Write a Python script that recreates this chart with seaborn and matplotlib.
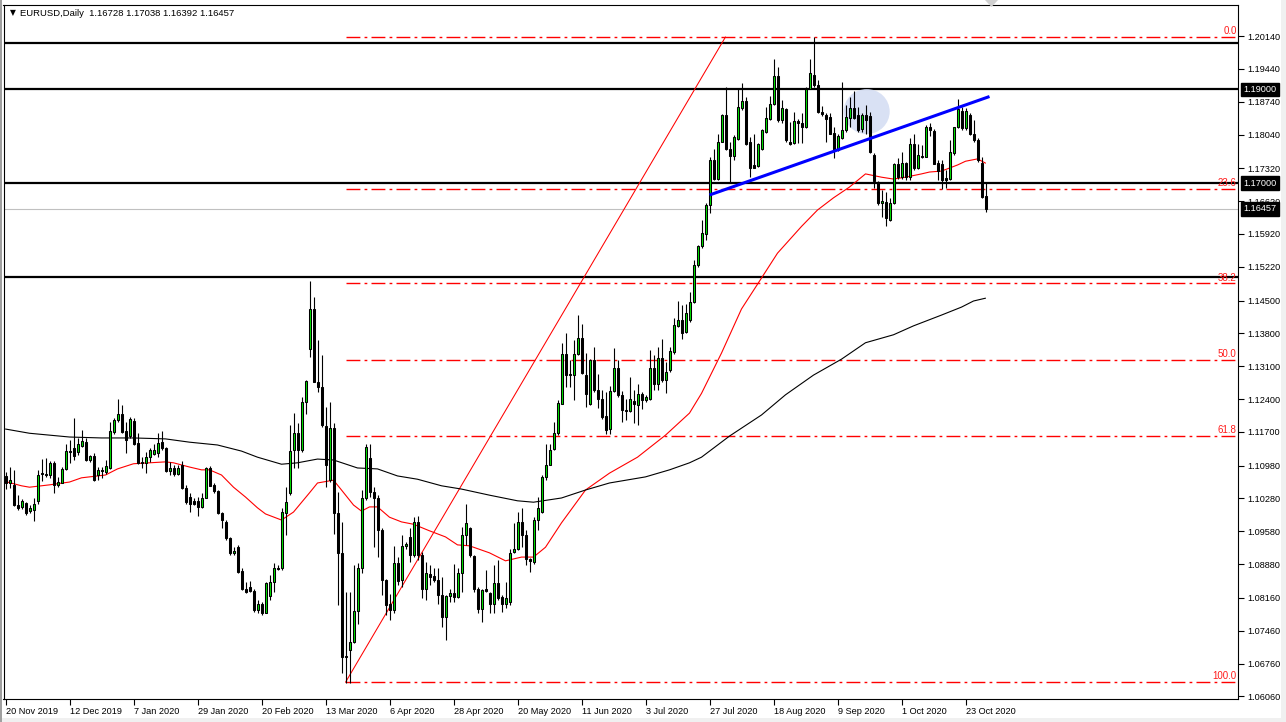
import numpy as np
import pandas as pd
import matplotlib
matplotlib.use("Agg")
import matplotlib.pyplot as plt
from matplotlib.patches import Ellipse, Rectangle, Polygon
import seaborn as sns

# daily EURUSD bars, 20 Nov 2019 .. 30 Oct 2020
opens = [
    1.1076, 1.1061, 1.1056, 1.1015, 1.1010, 1.1019, 1.1001, 1.1004, 1.1022, 1.1083,
    1.1081, 1.1078, 1.1104, 1.1056, 1.1062, 1.1090, 1.1129, 1.1135, 1.1126, 1.1140,
    1.1149, 1.1110, 1.1118, 1.1078, 1.1088, 1.1085, 1.1093, 1.1170, 1.1196, 1.1208,
    1.1172, 1.1161, 1.1194, 1.1147, 1.1106, 1.1103, 1.1117, 1.1122, 1.1124, 1.1149,
    1.1135, 1.1087, 1.1093, 1.1081, 1.1099, 1.1051, 1.1031, 1.1022, 1.1022, 1.1009,
    1.1030, 1.1094, 1.1056, 1.1044, 1.0996, 1.0978, 1.0943, 1.0911, 1.0925, 1.0873,
    1.0836, 1.0840, 1.0830, 1.0790, 1.0802, 1.0783, 1.0820, 1.0849, 1.0880, 1.0879,
    1.0996, 1.1039, 1.1132, 1.1168, 1.1131, 1.1234, 1.1346, 1.1433, 1.1277, 1.1266,
    1.1182, 1.1067, 1.1179, 1.0996, 1.0911, 1.0692, 1.0704, 1.0722, 1.0788, 1.0880,
    1.1029, 1.1115, 1.1042, 1.1028, 1.0960, 1.0854, 1.0804, 1.0791, 1.0891, 1.0854,
    1.0927, 1.0946, 1.0907, 1.0978, 1.0907, 1.0836, 1.0866, 1.0862, 1.0855, 1.0822,
    1.0776, 1.0820, 1.0827, 1.0817, 1.0870, 1.0951, 1.0966, 1.0905, 1.0836, 1.0792,
    1.0834, 1.0827, 1.0804, 1.0848, 1.0817, 1.0804, 1.0808, 1.0914, 1.0921, 1.0978,
    1.0950, 1.0898, 1.0893, 1.0982, 1.0999, 1.1074, 1.1100, 1.1134, 1.1168, 1.1230,
    1.1336, 1.1294, 1.1291, 1.1337, 1.1371, 1.1291, 1.1230, 1.1323, 1.1259, 1.1239,
    1.1203, 1.1177, 1.1257, 1.1307, 1.1248, 1.1216, 1.1215, 1.1235, 1.1228, 1.1250,
    1.1237, 1.1241, 1.1307, 1.1271, 1.1328, 1.1280, 1.1301, 1.1341, 1.1395, 1.1409,
    1.1382, 1.1408, 1.1446, 1.1525, 1.1566, 1.1591, 1.1653, 1.1750, 1.1710, 1.1789,
    1.1846, 1.1774, 1.1758, 1.1794, 1.1860, 1.1875, 1.1787, 1.1739, 1.1737, 1.1774,
    1.1810, 1.1836, 1.1869, 1.1929, 1.1834, 1.1858, 1.1789, 1.1785, 1.1833, 1.1829,
    1.1819, 1.1902, 1.1931, 1.1909, 1.1851, 1.1846, 1.1841, 1.1808, 1.1772, 1.1796,
    1.1814, 1.1840, 1.1860, 1.1846, 1.1815, 1.1846, 1.1843, 1.1760, 1.1703, 1.1657,
    1.1661, 1.1622, 1.1657, 1.1741, 1.1714, 1.1744, 1.1714, 1.1783, 1.1732, 1.1758,
    1.1757, 1.1821, 1.1812, 1.1744, 1.1742, 1.1711, 1.1710, 1.1764, 1.1819, 1.1855,
    1.1817, 1.1846, 1.1806, 1.1792, 1.1744, 1.16728,
]
highs = [
    1.1085, 1.1095, 1.1088, 1.1035, 1.1026, 1.1021, 1.1014, 1.1028, 1.1088, 1.1113,
    1.1115, 1.1108, 1.1108, 1.1073, 1.1095, 1.1145, 1.1152, 1.1199, 1.1156, 1.1174,
    1.1156, 1.1120, 1.1125, 1.1095, 1.1095, 1.1110, 1.1191, 1.1199, 1.1240, 1.1227,
    1.1191, 1.1202, 1.1199, 1.1167, 1.1117, 1.1127, 1.1135, 1.1145, 1.1167, 1.1172,
    1.1137, 1.1106, 1.1099, 1.1099, 1.1108, 1.1056, 1.1039, 1.1028, 1.1031, 1.1039,
    1.1095, 1.1097, 1.1060, 1.1046, 1.0999, 1.0982, 1.0946, 1.0925, 1.0928, 1.0879,
    1.0850, 1.0852, 1.0834, 1.0811, 1.0808, 1.0850, 1.0864, 1.0891, 1.0886, 1.1007,
    1.1053, 1.1184, 1.1211, 1.1188, 1.1245, 1.1280, 1.1492, 1.1458, 1.1366, 1.1334,
    1.1224, 1.1234, 1.1189, 1.1042, 1.0978, 1.0829, 1.0829, 1.0886, 1.0891, 1.1046,
    1.1145, 1.1144, 1.1053, 1.1035, 1.0964, 1.0857, 1.0825, 1.0926, 1.0904, 1.0951,
    1.0936, 1.0964, 1.0989, 1.0990, 1.0914, 1.0893, 1.0886, 1.0879, 1.0879, 1.0861,
    1.0822, 1.0836, 1.0888, 1.0879, 1.0968, 1.1017, 1.0968, 1.0907, 1.0840, 1.0836,
    1.0875, 1.0829, 1.0886, 1.0896, 1.0822, 1.0850, 1.0921, 1.0975, 1.0999, 1.1007,
    1.0961, 1.0902, 1.0989, 1.1032, 1.1077, 1.1145, 1.1145, 1.1191, 1.1237, 1.1360,
    1.1381, 1.1323, 1.1365, 1.1420, 1.1401, 1.1338, 1.1326, 1.1351, 1.1294, 1.1259,
    1.1255, 1.1267, 1.1348, 1.1324, 1.1257, 1.1241, 1.1286, 1.1260, 1.1273, 1.1255,
    1.1248, 1.1344, 1.1333, 1.1350, 1.1369, 1.1319, 1.1351, 1.1412, 1.1449, 1.1440,
    1.1442, 1.1469, 1.1536, 1.1568, 1.1621, 1.1657, 1.1757, 1.1774, 1.1805, 1.1848,
    1.1905, 1.1789, 1.1803, 1.1902, 1.1914, 1.1885, 1.1799, 1.1806, 1.1785, 1.1815,
    1.1863, 1.1886, 1.1966, 1.1949, 1.1878, 1.1860, 1.1831, 1.1853, 1.1836, 1.1849,
    1.1905, 1.1966, 1.2011, 1.1920, 1.1865, 1.1849, 1.1849, 1.1821, 1.1805, 1.1917,
    1.1867, 1.1885, 1.1897, 1.1863, 1.1849, 1.1867, 1.1853, 1.1764, 1.1705, 1.1686,
    1.1682, 1.1668, 1.1744, 1.1753, 1.1767, 1.1746, 1.1796, 1.1806, 1.1783, 1.1782,
    1.1824, 1.1828, 1.1815, 1.1749, 1.1749, 1.1728, 1.1792, 1.1821, 1.1880, 1.1863,
    1.1860, 1.1849, 1.1835, 1.1796, 1.1757, 1.17038,
]
lows = [
    1.1049, 1.1051, 1.1012, 1.1003, 1.1006, 1.0992, 1.0996, 1.0980, 1.1017, 1.1066,
    1.1073, 1.1071, 1.1039, 1.1053, 1.1060, 1.1088, 1.1103, 1.1110, 1.1120, 1.1138,
    1.1108, 1.1106, 1.1066, 1.1068, 1.1071, 1.1081, 1.1091, 1.1165, 1.1191, 1.1167,
    1.1124, 1.1156, 1.1143, 1.1101, 1.1092, 1.1083, 1.1106, 1.1120, 1.1117, 1.1131,
    1.1085, 1.1078, 1.1076, 1.1078, 1.1049, 1.1017, 1.1000, 1.1014, 1.0990, 1.1007,
    1.1028, 1.1054, 1.1039, 1.0994, 1.0964, 1.0939, 1.0907, 1.0907, 1.0868, 1.0833,
    1.0827, 1.0829, 1.0786, 1.0784, 1.0779, 1.0783, 1.0811, 1.0829, 1.0875, 1.0875,
    1.0950, 1.1035, 1.1092, 1.1092, 1.1128, 1.1209, 1.1330, 1.1277, 1.1256, 1.1181,
    1.1053, 1.1063, 1.0953, 1.0800, 1.0655, 1.0635, 1.0635, 1.0719, 1.0761, 1.0868,
    1.1024, 1.1032, 1.0925, 1.0904, 1.0822, 1.0779, 1.0768, 1.0783, 1.0843, 1.0840,
    1.0921, 1.0893, 1.0904, 1.0896, 1.0815, 1.0811, 1.0843, 1.0850, 1.0804, 1.0754,
    1.0726, 1.0808, 1.0808, 1.0815, 1.0829, 1.0928, 1.0904, 1.0829, 1.0783, 1.0765,
    1.0829, 1.0783, 1.0784, 1.0811, 1.0786, 1.0795, 1.0801, 1.0911, 1.0918, 1.0925,
    1.0886, 1.0872, 1.0888, 1.0960, 1.0996, 1.1067, 1.1099, 1.1131, 1.1163, 1.1229,
    1.1266, 1.1266, 1.1237, 1.1333, 1.1294, 1.1223, 1.1227, 1.1255, 1.1220, 1.1198,
    1.1166, 1.1166, 1.1255, 1.1245, 1.1191, 1.1195, 1.1213, 1.1188, 1.1184, 1.1218,
    1.1234, 1.1237, 1.1259, 1.1259, 1.1277, 1.1253, 1.1298, 1.1337, 1.1394, 1.1369,
    1.1380, 1.1404, 1.1444, 1.1522, 1.1561, 1.1579, 1.1637, 1.1707, 1.1708, 1.1787,
    1.1772, 1.1700, 1.1750, 1.1792, 1.1856, 1.1782, 1.1714, 1.1732, 1.1735, 1.1772,
    1.1808, 1.1835, 1.1867, 1.1831, 1.1828, 1.1789, 1.1782, 1.1784, 1.1785, 1.1785,
    1.1817, 1.1900, 1.1906, 1.1849, 1.1843, 1.1787, 1.1805, 1.1753, 1.1769, 1.1794,
    1.1810, 1.1821, 1.1836, 1.1810, 1.1810, 1.1806, 1.1764, 1.1689, 1.1654, 1.1629,
    1.1609, 1.1620, 1.1656, 1.1710, 1.1710, 1.1708, 1.1707, 1.1728, 1.1730, 1.1753,
    1.1755, 1.1801, 1.1741, 1.1708, 1.1687, 1.1689, 1.1707, 1.1760, 1.1817, 1.1814,
    1.1814, 1.1803, 1.1789, 1.1746, 1.1668, 1.16392,
]
closes = [
    1.1061, 1.1067, 1.1014, 1.1007, 1.1022, 1.0997, 1.1007, 1.1016, 1.1079, 1.1080,
    1.1078, 1.1104, 1.1056, 1.1063, 1.1090, 1.1129, 1.1126, 1.1118, 1.1145, 1.1151,
    1.1110, 1.1118, 1.1068, 1.1088, 1.1086, 1.1097, 1.1172, 1.1196, 1.1208, 1.1170,
    1.1152, 1.1197, 1.1145, 1.1103, 1.1104, 1.1117, 1.1132, 1.1131, 1.1147, 1.1135,
    1.1087, 1.1094, 1.1081, 1.1092, 1.1051, 1.1021, 1.1017, 1.1017, 1.1009, 1.1030,
    1.1093, 1.1054, 1.1044, 1.0996, 1.0982, 1.0943, 1.0911, 1.0916, 1.0872, 1.0836,
    1.0829, 1.0830, 1.0790, 1.0804, 1.0783, 1.0847, 1.0850, 1.0880, 1.0877, 1.1000,
    1.1021, 1.1130, 1.1168, 1.1132, 1.1234, 1.1279, 1.1433, 1.1277, 1.1266, 1.1184,
    1.1099, 1.1179, 1.0996, 1.0911, 1.0690, 1.0689, 1.0722, 1.0788, 1.0880, 1.1029,
    1.1137, 1.1042, 1.1028, 1.0960, 1.0854, 1.0800, 1.0790, 1.0891, 1.0852, 1.0927,
    1.0930, 1.0907, 1.0978, 1.0907, 1.0836, 1.0868, 1.0861, 1.0855, 1.0822, 1.0776,
    1.0820, 1.0827, 1.0818, 1.0870, 1.0951, 1.0975, 1.0907, 1.0836, 1.0793, 1.0832,
    1.0831, 1.0804, 1.0847, 1.0815, 1.0804, 1.0815, 1.0912, 1.0921, 1.0978, 1.0950,
    1.0898, 1.0895, 1.0982, 1.1008, 1.1074, 1.1100, 1.1132, 1.1168, 1.1232, 1.1336,
    1.1291, 1.1292, 1.1337, 1.1371, 1.1296, 1.1250, 1.1323, 1.1259, 1.1241, 1.1202,
    1.1175, 1.1257, 1.1307, 1.1248, 1.1216, 1.1215, 1.1241, 1.1230, 1.1250, 1.1237,
    1.1244, 1.1307, 1.1271, 1.1328, 1.1281, 1.1298, 1.1342, 1.1397, 1.1408, 1.1381,
    1.1424, 1.1446, 1.1525, 1.1567, 1.1593, 1.1653, 1.1750, 1.1710, 1.1789, 1.1846,
    1.1774, 1.1758, 1.1799, 1.1862, 1.1875, 1.1783, 1.1733, 1.1733, 1.1783, 1.1814,
    1.1840, 1.1869, 1.1929, 1.1834, 1.1860, 1.1792, 1.1784, 1.1833, 1.1829, 1.1819,
    1.1902, 1.1936, 1.1909, 1.1853, 1.1848, 1.1836, 1.1806, 1.1771, 1.1801, 1.1814,
    1.1842, 1.1860, 1.1840, 1.1814, 1.1846, 1.1835, 1.1767, 1.1705, 1.1657, 1.1663,
    1.1625, 1.1659, 1.1741, 1.1714, 1.1744, 1.1714, 1.1783, 1.1732, 1.1760, 1.1755,
    1.1821, 1.1814, 1.1742, 1.1727, 1.1707, 1.1707, 1.1767, 1.1819, 1.1858, 1.1817,
    1.1855, 1.1806, 1.1792, 1.1750, 1.1670, 1.16457,
]

date_labels = ["20 Nov 2019", "12 Dec 2019", "7 Jan 2020", "29 Jan 2020", "20 Feb 2020",
               "13 Mar 2020", "6 Apr 2020", "28 Apr 2020", "20 May 2020", "11 Jun 2020",
               "3 Jul 2020", "27 Jul 2020", "18 Aug 2020", "9 Sep 2020", "1 Oct 2020",
               "23 Oct 2020"]
label_step = 16

# moving averages (red ~50, black ~200) read at sample bars
ma_fast_bars = [0, 4, 6, 11, 16, 19, 21, 25, 28, 32, 36, 40, 42, 46, 49, 51, 54, 57, 60, 63,
                65, 69, 72, 76, 78, 82, 84, 87, 89, 91, 93, 96, 99, 102, 106, 110, 113, 116,
                121, 125, 129, 132, 135, 139, 145, 151, 158, 165, 171, 174, 179, 184, 189,
                193, 199, 203, 207, 211, 215, 219, 222, 225, 229, 231, 234, 238, 240, 243, 245]
ma_fast = [1.1064, 1.1055, 1.1052, 1.1057, 1.1063, 1.1072, 1.1074, 1.1078, 1.1091, 1.1102,
           1.1104, 1.1106, 1.1104, 1.1095, 1.1089, 1.1089, 1.1078, 1.1052, 1.1031, 1.1008,
           1.0995, 1.0982, 1.0999, 1.1040, 1.1061, 1.1067, 1.1046, 1.1014, 1.1001, 1.1010,
           1.1010, 1.0988, 1.0978, 1.0973, 1.0959, 1.0946, 1.0929, 1.0927, 1.0912, 1.0895,
           1.0903, 1.0903, 1.0924, 1.0976, 1.1046, 1.1082, 1.1116, 1.1163, 1.1210, 1.1252,
           1.1338, 1.1432, 1.1498, 1.1551, 1.1608, 1.1643, 1.1669, 1.1692, 1.1720, 1.1713,
           1.1709, 1.1713, 1.1720, 1.1724, 1.1726, 1.1739, 1.1747, 1.1752, 1.1743]
ma_slow_bars = [0, 6, 16, 24, 32, 40, 46, 53, 59, 63, 69, 73, 78, 82, 88, 93, 98, 103, 109,
                114, 121, 128, 132, 139, 145, 151, 160, 166, 171, 174, 181, 189, 195, 202,
                209, 215, 222, 227, 234, 239, 242, 245]
ma_slow = [1.1176, 1.1167, 1.1159, 1.1157, 1.1157, 1.1155, 1.1148, 1.1142, 1.1129, 1.1116,
           1.1101, 1.1104, 1.1112, 1.1110, 1.1093, 1.1091, 1.1076, 1.1069, 1.1055, 1.1048,
           1.1035, 1.1023, 1.1020, 1.1029, 1.1046, 1.1061, 1.1074, 1.1089, 1.1104, 1.1116,
           1.1161, 1.1206, 1.1249, 1.1291, 1.1325, 1.1360, 1.1377, 1.1396, 1.1419, 1.1436,
           1.1449, 1.1455]

# drawn objects
levels = [1.2000, 1.1900, 1.1700, 1.1500]
tagged_levels = [1.1900, 1.1700]
last_price = 1.16457
fib_bars = [85, 180]
fib_prices = [1.0636, 1.2012]
fib_ratios = [0.0, 23.6, 38.2, 50.0, 61.8, 100.0]
trend_bars = [176, 246]
trend_prices = [1.1675, 1.1885]
circle_bar, circle_price = 215.3, 1.1853

yticks = [1.2014, 1.1944, 1.1874, 1.1804, 1.1732, 1.1662, 1.1592, 1.1522, 1.1450, 1.1380,
          1.1310, 1.1240, 1.1170, 1.1098, 1.1028, 1.0958, 1.0888, 1.0816, 1.0746, 1.0676,
          1.0606]

sns.set_theme(style="white")
plt.rcParams["font.family"] = ["Liberation Sans", "DejaVu Sans"]

W, H = 1286, 722
fig = plt.figure(figsize=(W / 100, H / 100), dpi=100)
fig.patch.set_facecolor("white")
ax = fig.add_axes([3.5 / W, (H - 699) / H, (1238 - 3.5) / W, (699 - 4.5) / H])
ax.set_facecolor("white")

df = pd.DataFrame({"open": opens, "high": highs, "low": lows, "close": closes})
df["bar"] = np.arange(len(df))
up = df["close"] >= df["open"]

ax.vlines(df["bar"], df["low"], df["high"], color="black", lw=0.8, zorder=4)
ax.bar(df["bar"][up], (df["close"] - df["open"])[up], bottom=df["open"][up], width=0.5,
       color="#00e000", edgecolor="black", linewidth=0.75, zorder=5)
ax.bar(df["bar"][~up], (df["open"] - df["close"])[~up], bottom=df["close"][~up], width=0.5,
       color="black", edgecolor="black", linewidth=0.75, zorder=5)

sns.lineplot(x=ma_fast_bars, y=ma_fast, color="red", lw=0.8, ax=ax, zorder=3)
sns.lineplot(x=ma_slow_bars, y=ma_slow, color="black", lw=0.8, ax=ax, zorder=3)

xmax = (1238 - 5.5) / 4
for lv in levels:
    ax.axhline(lv, color="black", lw=1.6, zorder=2)
ax.axhline(last_price, color="#c0c0c0", lw=0.8, zorder=1)

# fibonacci retracement
lo, hi = fib_prices
for r in fib_ratios:
    p = hi - r / 100 * (hi - lo)
    ax.hlines(p, fib_bars[0], xmax, colors="red", lw=1.0, linestyles=[(0, (10, 3, 2, 3))], zorder=2)
    ax.text(0.999, p + 0.0002, f"{r:.1f}", transform=ax.get_yaxis_transform(), ha="right",
            va="bottom", fontsize=7, color="#ff1a1a", zorder=6)
ax.plot(fib_bars, fib_prices, color="red", lw=0.75, zorder=2)

ax.plot(trend_bars, trend_prices, color="#0000ff", lw=2.2, zorder=6, solid_capstyle="butt")
ax.add_patch(Ellipse((circle_bar, circle_price), 11.5, 0.0096, facecolor="#d3dcf3",
                     edgecolor="none", alpha=0.85, zorder=2.5))

ax.set_xlim(-0.5, xmax)
ax.set_ylim(1.06004, 1.20812)

ax.yaxis.tick_right()
ax.set_yticks(yticks)
ax.set_yticklabels([f"{v:.5f}" for v in yticks])
ax.set_xticks(np.arange(len(date_labels)) * label_step)
ax.set_xticklabels(date_labels, ha="left")
ax.tick_params(axis="both", direction="out", length=4, width=0.8, color="black",
               labelsize=6.6, labelcolor="black")
ax.tick_params(axis="y", pad=3, right=True, left=False)
ax.tick_params(axis="x", pad=2, bottom=True)
ax.set_xlabel("")
ax.set_ylabel("")
for s in ax.spines.values():
    s.set_color("black")
    s.set_linewidth(0.8)

for lv in tagged_levels + [last_price]:
    ax.text(1.0045, lv, f"{lv:.5f}", transform=ax.get_yaxis_transform(), ha="left", va="center",
            fontsize=6.6, color="white", clip_on=False, zorder=10,
            bbox=dict(boxstyle="square,pad=0.25", facecolor="black", edgecolor="black"))

fig.text(10 / W, 1 - 13 / H, "\u25bc", fontsize=5.5, color="black", va="center", ha="left",
         family=["DejaVu Sans"])
fig.text(20 / W, 1 - 13 / H, "EURUSD,Daily  1.16728 1.17038 1.16392 1.16457", fontsize=6.8,
         color="black", va="center", ha="left")

# window frame bits
fig.patches.append(Rectangle((1281 / W, 0), 5 / W, 1, transform=fig.transFigure,
                             facecolor="#f0f0f0", edgecolor="none"))
fig.patches.append(Rectangle((0, 0), 1, 4 / H, transform=fig.transFigure,
                             facecolor="#f0f0f0", edgecolor="none"))
fig.patches.append(Rectangle((0, 0), 1.5 / W, 1, transform=fig.transFigure,
                             facecolor="#a0a0a0", edgecolor="none"))
fig.patches.append(Polygon([(985 / W, 1.0), (998 / W, 1.0), (991.5 / W, 1 - 7 / H)],
                           closed=True, transform=fig.transFigure, facecolor="#d0d0d0",
                           edgecolor="none"))

fig.savefig("out.png", dpi=100)
